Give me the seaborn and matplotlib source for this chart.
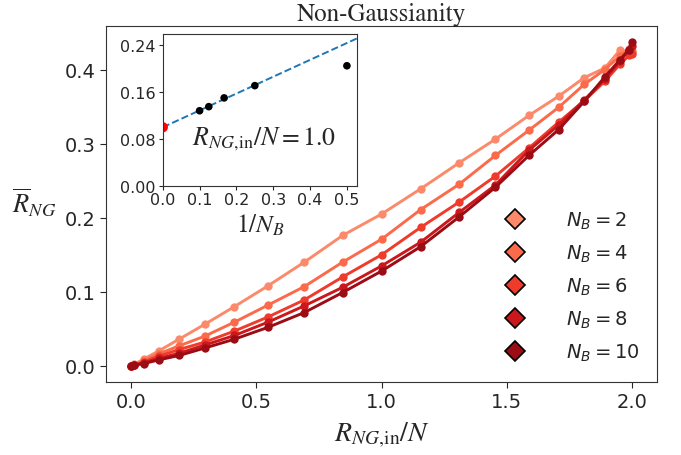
import numpy as np
import pandas as pd
import matplotlib
matplotlib.use("Agg")
import matplotlib.pyplot as plt
from matplotlib.lines import Line2D
import seaborn as sns

# ---- data ----
r_in = [0.0, 0.012, 0.049, 0.109, 0.191, 0.293, 0.412, 0.546, 0.691, 0.844, 1.0,
        1.156, 1.309, 1.454, 1.588, 1.707, 1.809, 1.891, 1.951, 1.988, 2.0]
nb_values = [2, 4, 6, 8, 10]
r_nb2 = [0, 0.002, 0.009, 0.020, 0.036, 0.056, 0.080, 0.108, 0.140, 0.176, 0.205,
         0.239, 0.274, 0.306, 0.338, 0.364, 0.389, 0.402, 0.426, 0.424, 0.422]
r_nb4 = [0, 0.001, 0.007, 0.016, 0.027, 0.040, 0.059, 0.082, 0.107, 0.140, 0.171,
         0.211, 0.245, 0.284, 0.318, 0.349, 0.380, 0.400, 0.418, 0.428, 0.425]
r_nb6 = [0, 0.001, 0.005, 0.013, 0.022, 0.032, 0.047, 0.066, 0.089, 0.120, 0.150,
         0.187, 0.221, 0.256, 0.294, 0.329, 0.358, 0.384, 0.407, 0.419, 0.421]
r_nb8 = [0, 0.001, 0.004, 0.010, 0.017, 0.028, 0.041, 0.059, 0.081, 0.106, 0.135,
         0.167, 0.207, 0.244, 0.291, 0.325, 0.359, 0.387, 0.411, 0.427, 0.432]
r_nb10 = [0, 0.001, 0.003, 0.008, 0.014, 0.024, 0.036, 0.052, 0.072, 0.099, 0.128,
          0.161, 0.201, 0.241, 0.284, 0.319, 0.357, 0.390, 0.413, 0.427, 0.437]
series = [r_nb2, r_nb4, r_nb6, r_nb8, r_nb10]
colors = ["#fc8a6a", "#fb6a4a", "#ef3b2c", "#cb181d", "#9b0c14"]

# inset data: values at R_in/N = 1.0 vs 1/N_B
inv_nb = [1 / n for n in nb_values]
inset_vals = [s[r_in.index(1.0)] for s in series]

rows = []
for nb, s in zip(nb_values, series):
    for x, y in zip(r_in, s):
        rows.append({"x": x, "y": y, "NB": nb})
df = pd.DataFrame(rows)

sns.set_style("ticks")
plt.rcParams["font.family"] = ["DejaVu Sans"]
plt.rcParams["mathtext.fontset"] = "dejavusans"

fig = plt.figure(figsize=(6.81, 4.56), dpi=100)
ax = fig.add_axes([0.156, 0.160, 0.809, 0.781])

sns.lineplot(data=df, x="x", y="y", hue="NB", palette=colors, marker="o",
             markersize=6, markeredgewidth=0, linewidth=2.1, sort=False,
             legend=False, ax=ax)
ax.margins(x=0.05, y=0.05)
ax.set_xticks([0.0, 0.5, 1.0, 1.5, 2.0])
ax.set_yticks([0.0, 0.1, 0.2, 0.3, 0.4])
ax.tick_params(labelsize=14, length=4)
for sp in ax.spines.values():
    sp.set_color("#333333")

ax.set_xlabel(r"$R_{NG,\!\mathrm{in}}/N$", fontsize=20, math_fontfamily="stix",
              labelpad=6)
ax.set_ylabel(r"$\overline{R}_{NG}$", fontsize=19, math_fontfamily="stix",
              rotation=0)
ax.yaxis.set_label_coords(-0.13, 0.46)
ax.set_title("Non-Gaussianity", fontsize=18, family="STIXGeneral", pad=3)

handles = [Line2D([], [], linestyle="None", marker="D", markersize=10,
                  markerfacecolor=c, markeredgecolor="black", markeredgewidth=1.2)
           for c in colors]
labels = [rf"$N_B = {n}$" for n in nb_values]
ax.legend(handles, labels, loc="lower right", frameon=False, fontsize=14,
          handletextpad=1.6, labelspacing=0.6, bbox_to_anchor=(1.0, 0.005))

# ---- inset ----
axi = fig.add_axes([0.239, 0.591, 0.285, 0.333])
slope, intercept = np.polyfit(inv_nb[1:], inset_vals[1:], 1)
xx = np.linspace(0, 0.6, 50)
axi.plot(xx, intercept + slope * xx, "--", color="tab:blue", linewidth=1.4)
sns.scatterplot(x=inv_nb, y=inset_vals, color="black", s=30, edgecolor="none",
                ax=axi, zorder=3)
axi.scatter([0], [intercept], color="red", s=55, zorder=4, clip_on=True,
            edgecolors="none")
axi.set_xlim(0, 0.527)
axi.set_ylim(0, 0.26)
axi.set_xticks([0.0, 0.1, 0.2, 0.3, 0.4, 0.5])
axi.set_yticks([0.0, 0.08, 0.16, 0.24])
axi.tick_params(labelsize=11.5, length=3, pad=2)
for sp in axi.spines.values():
    sp.set_color("#333333")
    sp.set_zorder(5)
axi.set_xlabel(r"$1/N_B$", fontsize=18, math_fontfamily="stix", labelpad=3)
axi.text(0.52, 0.31, r"$R_{NG,\!\mathrm{in}}/N = 1.0$", transform=axi.transAxes,
         ha="center", va="center", fontsize=18.5, math_fontfamily="stix")

fig.savefig("out.png", dpi=100)
